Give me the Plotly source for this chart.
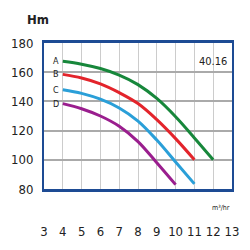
import plotly.graph_objects as go

x_ticks = [3, 4, 5, 6, 7, 8, 9, 10, 11, 12, 13]
y_ticks = [80, 100, 120, 140, 160, 180]

curve_names = ["A", "B", "C", "D"]
flow_A = [4, 5, 6, 7, 8, 9, 10, 11, 12]
head_A = [167.5, 165.5, 162.5, 158, 151.5, 142, 129.5, 115, 100]
flow_B = [4, 5, 6, 7, 8, 9, 10, 11]
head_B = [158.5, 156, 152, 146, 138.5, 127.5, 114.5, 100]
flow_C = [4, 5, 6, 7, 8, 9, 10, 11]
head_C = [148, 145.5, 141.5, 135.5, 126.5, 113.5, 98.5, 83.5]
flow_D = [4, 5, 6, 7, 8, 9, 10]
head_D = [138.5, 135, 130, 123, 112.5, 98, 83]

colors = ["#17873b", "#e3242b", "#2a9fd8", "#9a1e8e"]
navy = "#1d4b94"
font_narrow = "Liberation Sans Narrow, DejaVu Sans Condensed, Arial Narrow, sans-serif"

fig = go.Figure()
series = [(flow_A, head_A), (flow_B, head_B), (flow_C, head_C), (flow_D, head_D)]
for name, (fx, hy), c in zip(curve_names, series, colors):
    fig.add_trace(go.Scatter(x=fx, y=hy, mode="lines", name=name,
                             line=dict(color=c, width=3, shape="spline", smoothing=1.0),
                             showlegend=False, hoverinfo="skip"))
    fig.add_annotation(x=fx[0], y=hy[0], text=name, showarrow=False,
                       xanchor="right", yanchor="middle", xshift=-2,
                       font=dict(family=font_narrow, size=9, color="#222"))

fig.add_annotation(xref="paper", yref="paper", x=0.985, y=0.87, text="40.16",
                   showarrow=False, xanchor="right", yanchor="middle",
                   font=dict(family=font_narrow, size=11, color="#222"))
fig.add_annotation(xref="paper", yref="paper", x=-0.1, y=1.16, text="<b>Hm</b>",
                   showarrow=False, xanchor="left", yanchor="middle",
                   font=dict(family=font_narrow, size=13, color="#222"))
fig.add_annotation(xref="paper", yref="paper", x=1.0, y=-0.13, text="m³/hr",
                   showarrow=False, xanchor="right", yanchor="middle",
                   font=dict(family=font_narrow, size=7, color="#222"))

fig.update_xaxes(range=[3, 13], tickvals=x_ticks, ticktext=[str(v) for v in x_ticks],
                 showgrid=True, gridcolor="#cccccc", gridwidth=1,
                 showline=True, linecolor=navy, linewidth=3, mirror=True,
                 ticks="", ticklabelstandoff=28, zeroline=False,
                 tickfont=dict(family=font_narrow, size=13, color="#222"))
fig.update_yaxes(range=[80, 180], tickvals=y_ticks, ticktext=[str(v) for v in y_ticks],
                 showgrid=True, gridcolor="#aaaaaa", gridwidth=1.5,
                 showline=True, linecolor=navy, linewidth=2, mirror=True,
                 ticks="", ticklabelstandoff=6, zeroline=False,
                 tickfont=dict(family=font_narrow, size=13, color="#222"))

fig.update_layout(width=250, height=250, margin=dict(l=24, r=11, t=43, b=56),
                  plot_bgcolor="white", paper_bgcolor="white")

fig.write_html("out.html")
